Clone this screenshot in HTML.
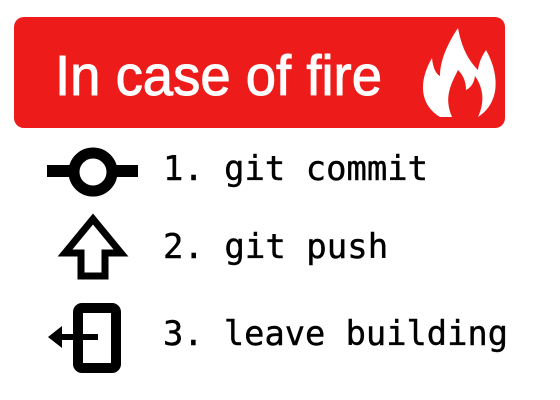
<!DOCTYPE html>
<html><head><style>
html,body{margin:0;padding:0;background:#fff;width:560px;height:400px;overflow:hidden;}
svg{display:block}
</style></head><body>
<svg width="560" height="400" viewBox="0 0 560 400" xmlns="http://www.w3.org/2000/svg">
<rect x="14" y="17" width="491" height="111" rx="10" fill="#ee1b1b"/>
<text x="55" y="95" font-family="Liberation Sans, sans-serif" font-size="57" fill="#fff" stroke="#fff" stroke-width="1" textLength="327" lengthAdjust="spacingAndGlyphs">In case of fire</text>
<path d="M440 117 C420 105 418 82 432 58 C433 68 436 74 440 76 C440 58 450 40 458 28 C462 50 470 62 478 70 C479 62 482 56 486 50 C500 75 500 103 478 117 C486 100 482 86 475 76 C474 84 470 88 466 90 C466 80 462 74 458 70 C450 86 444 98 452 117 Z" fill="#fff"/>
<rect x="47" y="165" width="91" height="12" fill="#000"/>
<circle cx="93" cy="172" r="19" fill="#fff" stroke="#000" stroke-width="11"/>
<path d="M93 219 L65 253 L81 253 L81 276 L105 276 L105 253 L121 253 Z" fill="none" stroke="#000" stroke-width="7" stroke-linejoin="miter"/>
<rect x="78" y="308" width="38" height="60" rx="4" fill="none" stroke="#000" stroke-width="10"/>
<rect x="60" y="334" width="38" height="6" fill="#000"/>
<path d="M48 337 L62 326 L62 348 Z" fill="#000"/>
<g font-family="DejaVu Sans Mono, Liberation Mono, monospace" font-size="34" fill="#000" stroke="#000" stroke-width="0.4">
<text x="163" y="180" textLength="265" lengthAdjust="spacingAndGlyphs">1. git commit</text>
<text x="163" y="258">2. git push</text>
<text x="163" y="345" textLength="345" lengthAdjust="spacingAndGlyphs">3. leave building</text>
</g>
</svg>
</body></html>
